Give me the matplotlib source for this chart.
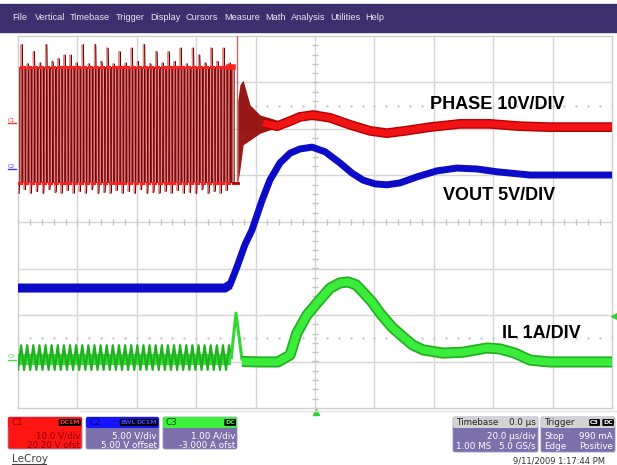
import matplotlib
matplotlib.use("Agg")
import numpy as np
import matplotlib.pyplot as plt
from matplotlib.patches import Rectangle, FancyBboxPatch

W, H = 617, 465

# time in us (20 us/div), amplitudes in screen divisions (8 div high)
# --- PHASE (C1), switching part, one value per cycle
sw_start = -100.0
sw_period = 2.06
phase_hi = 3.33
phase_lo = 0.84
phase_top = [3.81, 3.40, 3.66, 3.42, 3.81, 3.45, 3.51, 3.59, 3.59, 3.42, 3.81, 3.40,
             3.81, 3.45, 3.74, 3.40, 3.66, 3.42, 3.74, 3.45, 3.81, 3.40, 3.66, 3.42,
             3.66, 3.45, 3.74, 3.40, 3.74, 3.59, 3.42, 3.74, 3.45, 3.74, 3.42]
phase_bot = [0.62, 0.70, 0.62, 0.66, 0.62, 0.70, 0.64, 0.62, 0.68, 0.62, 0.66, 0.62,
             0.70, 0.62, 0.64, 0.62, 0.68, 0.62, 0.66, 0.62, 0.70, 0.62, 0.64, 0.62,
             0.66, 0.62, 0.68, 0.62, 0.64, 0.62, 0.70, 0.62, 0.66, 0.62, 0.68]
# ringing after switching stops (envelope)
ring_t = [-26.0, -25.3, -24.2, -21.9, -18.5, -15.2, -11.8, -10.1]
ring_up = [2.60, 2.95, 3.05, 2.52, 2.30, 2.24, 2.17, 2.13]
ring_dn = [0.84, 1.12, 1.66, 1.76, 1.91, 1.98, 2.04, 2.11]
stop_t = -27.6
spike_t = -26.3
# settled PHASE
phase_t = [-17.5, -12.8, -8.4, -5.1, -0.7, 5.1, 11.8, 18.5, 24.2, 30.3, 38.7, 48.8,
           58.9, 69.0, 79.1, 100.0]
phase_v = [2.13, 2.06, 2.17, 2.26, 2.30, 2.24, 2.09, 1.96, 1.91, 1.96, 2.04, 2.11,
           2.11, 2.06, 2.04, 2.04]

# --- VOUT (C2)
vout_t = [-100.0, -30.3, -28.6, -26.3, -23.6, -21.2, -17.8, -15.2, -11.8, -8.4, -5.1,
          -1.0, 3.4, 8.4, 12.5, 16.2, 20.2, 24.2, 28.6, 34.3, 41.1, 47.8, 54.5, 61.3,
          72.4, 85.9, 100.0]
vout_v = [-1.42, -1.42, -1.35, -0.97, -0.49, -0.17, 0.47, 0.90, 1.27, 1.48, 1.57,
          1.61, 1.51, 1.27, 1.05, 0.90, 0.82, 0.80, 0.84, 0.97, 1.10, 1.16, 1.14, 1.08,
          1.01, 1.01, 1.01]

# --- IL (C3)
il_top = -2.65
il_bot = -3.18
il_spike_t = [-28.2, -26.6, -24.6]
il_spike_v = [-2.92, -1.96, -2.95]
il_t = [-24.6, -18.5, -12.5, -8.4, -6.1, -2.7, 0.7, 5.1, 8.4, 11.1, 13.8,
        16.2, 19.2, 21.9, 25.9, 29.6, 33.0, 36.4, 43.1, 49.8, 57.9, 62.3, 67.3, 72.4,
        79.1, 100.0]
il_v = [-3.00, -3.01, -3.01, -2.86, -2.39, -2.00, -1.74, -1.42, -1.31,
        -1.29, -1.35, -1.51, -1.72, -1.96, -2.26, -2.47, -2.65, -2.75, -2.82, -2.80,
        -2.71, -2.73, -2.82, -2.97, -3.01, -3.01]

labels = ["PHASE 10V/DIV", "VOUT 5V/DIV", "IL 1A/DIV"]
menu = ["File", "Vertical", "Timebase", "Trigger", "Display", "Cursors", "Measure",
        "Math", "Analysis", "Utilities", "Help"]

fig = plt.figure(figsize=(W / 100, H / 100), dpi=100)
fig.patch.set_facecolor("white")


def pix_axes(z):
    a = fig.add_axes([0, 0, 1, 1], zorder=z)
    a.set_xlim(0, W)
    a.set_ylim(H, 0)
    a.axis("off")
    a.patch.set_alpha(0)
    return a


bg = pix_axes(0)
purple = "#3d2f6e"
bg.add_patch(Rectangle((0, 4), W, 28, color=purple))
menu_x = [12, 35, 70, 116, 150, 186, 224, 265, 291, 330, 365]
for mx, m in zip(menu_x, menu):
    bg.text(mx, 18, m, color="#e8e6f0", fontsize=6.6, va="center", ha="left",
            family="Liberation Sans")

# main scope grid
x0, y0, x1, y1 = 18, 36, 612, 408
ax = fig.add_axes([x0 / W, 1 - y1 / H, (x1 - x0) / W, (y1 - y0) / H], zorder=1)
ax.set_xlim(-100, 100)
ax.set_ylim(-4, 4)
ax.set_xticks([])
ax.set_yticks([])
for s in ax.spines.values():
    s.set_color("#cfcfcf")
    s.set_linewidth(1)
gc = "#d6d6d6"
for gx in np.arange(-80, 81, 20):
    ax.axvline(gx, color=gc, lw=1, zorder=0)
for gy in range(-3, 4):
    ax.axhline(gy, color=gc, lw=1, zorder=0)
minor_x = np.arange(-100, 100.1, 4)
minor_y = np.arange(-4, 4.01, 0.2)
ax.plot(minor_x, np.zeros_like(minor_x), ls="none", marker="|", ms=4, color="#c4c4c4", zorder=0)
ax.plot(np.zeros_like(minor_y), minor_y, ls="none", marker="_", ms=4, color="#c4c4c4", zorder=0)
for lv in (2.5, -2.5):
    ax.plot(minor_x, np.full_like(minor_x, lv), ls="none", marker=".", ms=1.5,
            color="#c8c8c8", zorder=0)

# PHASE switching waveform
sx, sy, px, py = [], [], [], []
for i in range(len(phase_top)):
    t = sw_start + i * sw_period
    sx += [t, t + 0.08 * sw_period, t + 0.45 * sw_period, t + 0.5 * sw_period,
           t + 0.56 * sw_period, t + 0.95 * sw_period]
    sy += [phase_bot[i], phase_lo, phase_lo, phase_top[i], phase_hi, phase_hi]
    px += [t + 0.08 * sw_period, t + 0.45 * sw_period, np.nan,
           t + 0.56 * sw_period, t + 0.95 * sw_period, np.nan]
    py += [phase_lo, phase_lo, np.nan, phase_hi, phase_hi, np.nan]
sx += [stop_t, stop_t]
sy += [phase_hi, phase_lo]
ax.fill_between([sw_start, stop_t], phase_lo, phase_hi, color="#981010", lw=0, zorder=2)
ax.plot([x + 0.35 for x in sx], sy, color="#6e0000", lw=0.9, zorder=3)
ax.plot(sx, sy, color="#dc9090", lw=0.9, zorder=3)
ax.plot(px, py, color="#ff2020", lw=2.2, zorder=3)
ax.plot([stop_t - 1.5, stop_t], [phase_hi, phase_hi], color="#ff1e1e", lw=4, zorder=3)
ax.plot([spike_t, spike_t], [phase_lo, 4.2], color="#c86a6a", lw=1, zorder=3)
ax.plot([stop_t, ring_t[0]], [phase_lo, phase_lo], color="#b00000", lw=2, zorder=3)
ax.fill_between(ring_t, ring_dn, ring_up, color="#8e0000", lw=0, alpha=0.9, zorder=3)

# settled traces
ax.plot(phase_t, phase_v, color="#b40000", lw=7, zorder=4, solid_capstyle="butt")
ax.plot(phase_t, phase_v, color="#f21414", lw=5, zorder=4, solid_capstyle="butt")
ax.plot(vout_t[:3], vout_v[:3], color="#0c0cc8", lw=6.5, zorder=4, solid_capstyle="butt")
ax.plot(vout_t[1:], vout_v[1:], color="#0c0cc8", lw=5, zorder=4, solid_capstyle="butt")

# IL ripple while switching
rx, ry = [], []
for i in range(len(phase_top)):
    t = sw_start + i * sw_period
    rx += [t, t + 0.5 * sw_period]
    ry += [il_bot, il_top]
rx.append(il_spike_t[0])
ry.append(il_spike_v[0])
ax.fill_between([sw_start, il_spike_t[0]], -3.08, -2.84, color="#38e038", lw=0, zorder=3)
ax.plot(rx, ry, color="#1fb21f", lw=1.6, zorder=4)
ax.plot(il_spike_t, il_spike_v, color="#30d830", lw=2.2, zorder=4)
ax.plot(il_t, il_v, color="#20b020", lw=8, zorder=4, solid_capstyle="butt")
ax.plot(il_t, il_v, color="#3cec3c", lw=5.5, zorder=4, solid_capstyle="butt")

# overlay: labels and markers
top = pix_axes(2)
lab_pos = [(430, 104), (443, 195), (502, 333)]
for (lx, ly), lab in zip(lab_pos, labels):
    top.text(lx, ly, lab, fontsize=13, fontweight="bold", family="Liberation Sans",
             va="center", ha="left", color="black")

for my, name, col in [(122, "C1", "#ff3030"), (168, "C2", "#3a3aff"), (358, "C3", "#44dd44")]:
    top.text(11.5, my - 2, name, fontsize=4, color=col, ha="center", va="center")
    top.plot([8, 16], [my + 1.5, my + 1.5], color=col, lw=1)
top.plot([316], [412], marker="^", color="#30d030", ms=4)
top.plot([614], [316], marker="<", color="#30d030", ms=4)

# bottom info boxes
top.plot([80, W], [411, 411], color="#e4e4e4", lw=1)
panel = "#7b70ab"


def box(x, w, head_col, body_col, head_h=11, h=32):
    top.add_patch(FancyBboxPatch((x, 417), w, h, boxstyle="round,pad=0,rounding_size=2",
                                 fc=body_col, ec="#9a94c0", lw=0.6))
    top.add_patch(FancyBboxPatch((x, 417), w, head_h, boxstyle="round,pad=0,rounding_size=2",
                                 fc=head_col, ec="none"))


def badge(x, txt, col):
    top.text(x, 422.5, txt, fontsize=4.5, color=col, ha="right", va="center",
             fontweight="bold",
             bbox=dict(boxstyle="round,pad=0.15", fc="black", ec="none"))


fs = 6.3
box(8, 74, "#ff1414", "#ff1414")
top.text(11, 422.5, "C1", fontsize=fs, color="#8a0000", va="center")
badge(80, "DC1M", "#ff3030")
top.text(80, 436, "10.0 V/div", fontsize=fs, color="#8a0000", ha="right", va="center")
top.text(80, 445, "20.20 V ofst", fontsize=fs, color="#8a0000", ha="right", va="center")

box(86, 73, "#1414ff", panel)
top.text(89, 422.5, "C2", fontsize=fs, color="#000080", va="center")
badge(157, "DC1M", "#4040ff")
badge(136, "BWL", "#4040ff")
top.text(157, 436, "5.00 V/div", fontsize=fs, color="white", ha="right", va="center")
top.text(157, 445, "5.00 V offset", fontsize=fs, color="white", ha="right", va="center")

box(163, 74, "#3cf03c", panel)
top.text(166, 422.5, "C3", fontsize=fs, color="#005000", va="center")
badge(235, "DC", "#40ff40")
top.text(235, 436, "1.00 A/div", fontsize=fs, color="white", ha="right", va="center")
top.text(235, 445, "-3.000 A ofst", fontsize=fs, color="white", ha="right", va="center")

box(453, 85, "#d2d2d2", panel, h=35)
top.text(456, 422.5, "Timebase", fontsize=fs, color="#202020", va="center")
top.text(536, 422.5, "0.0 µs", fontsize=fs, color="#202020", ha="right", va="center")
top.text(536, 436, "20.0 µs/div", fontsize=fs, color="white", ha="right", va="center")
top.text(456, 446, "1.00 MS", fontsize=fs, color="white", va="center")
top.text(536, 446, "5.0 GS/s", fontsize=fs, color="white", ha="right", va="center")

box(541, 74, "#d2d2d2", panel, h=35)
top.text(544, 422.5, "Trigger", fontsize=fs, color="#202020", va="center")
badge(613, "DC", "white")
badge(599, "C3", "white")
top.text(544, 436, "Stop", fontsize=fs, color="white", va="center")
top.text(613, 436, "990 mA", fontsize=fs, color="white", ha="right", va="center")
top.text(544, 446, "Edge", fontsize=fs, color="white", va="center")
top.text(613, 446, "Positive", fontsize=fs, color="white", ha="right", va="center")

top.text(605, 461, "9/11/2009 1:17:44 PM", fontsize=6, color="#303030", ha="right", va="center")
top.text(12, 459, "LeCroy", fontsize=7.5, color="#404040", va="center")
top.plot([12, 46], [464, 464], color="#404040", lw=0.8)

fig.savefig("out.png", dpi=100)
